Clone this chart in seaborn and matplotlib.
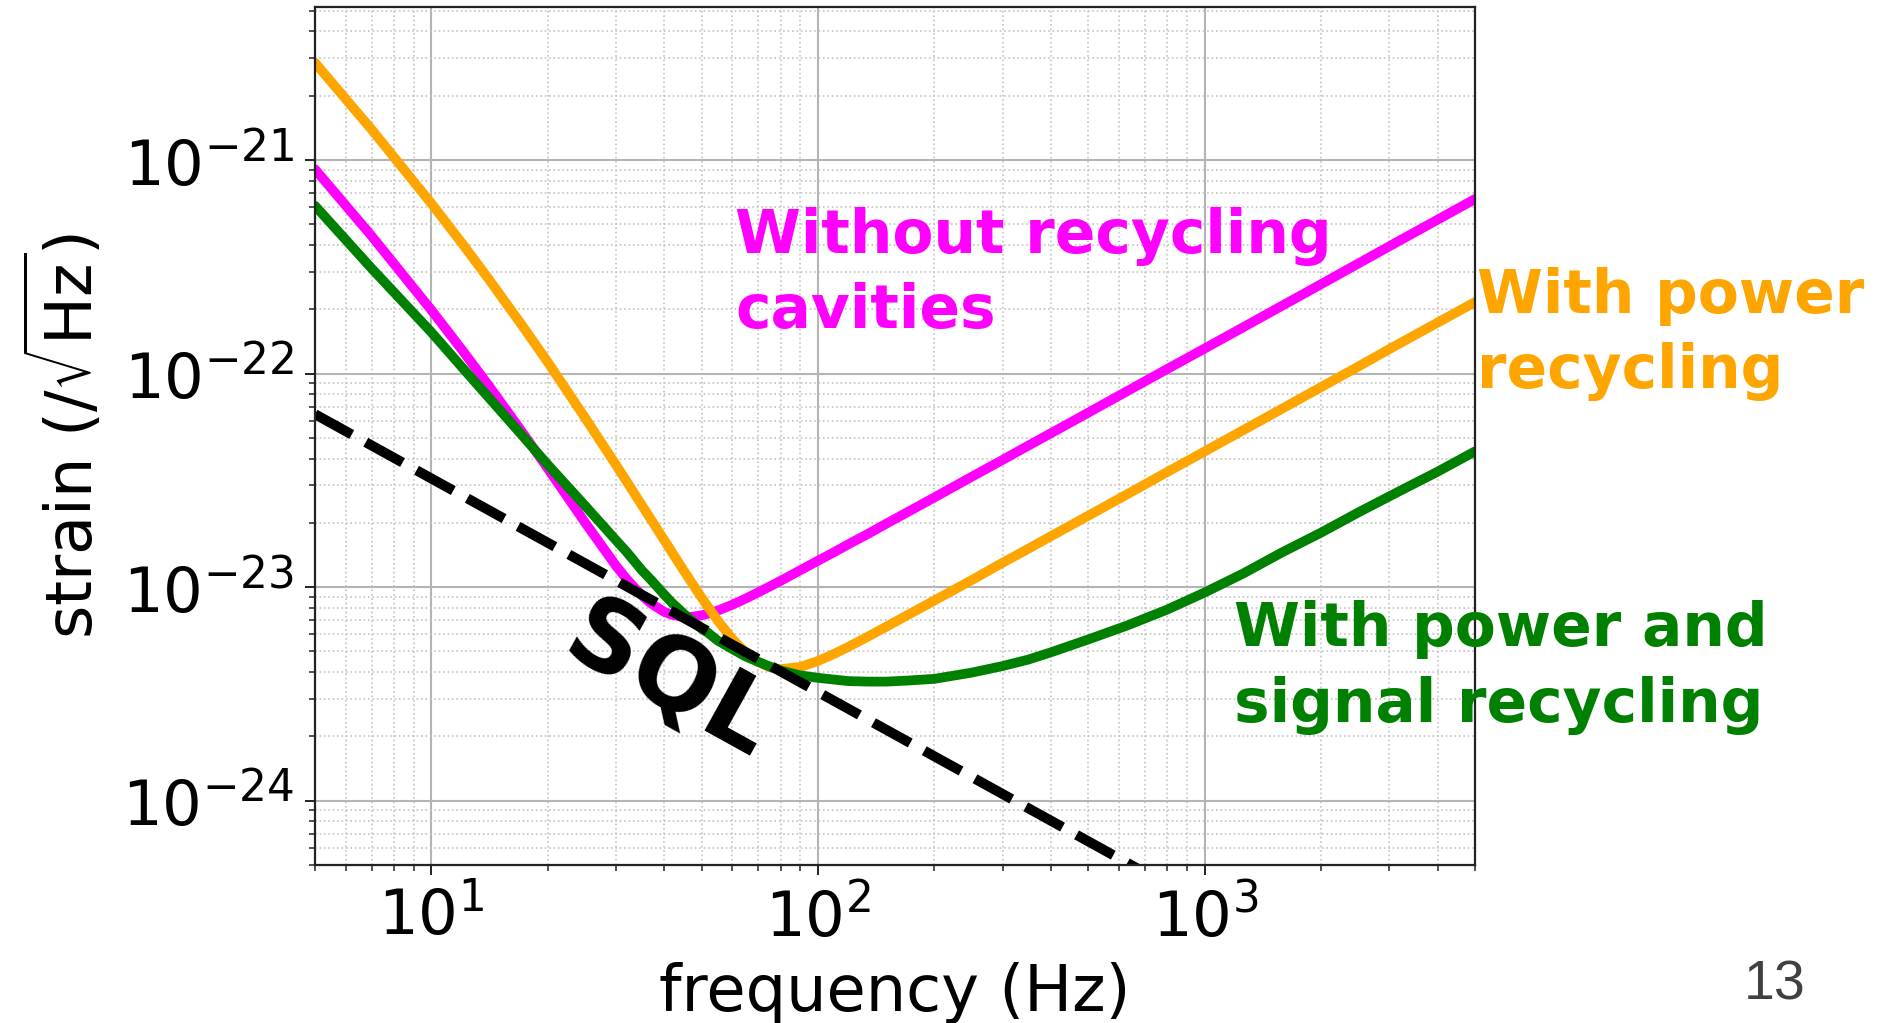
import matplotlib
matplotlib.use("Agg")
import matplotlib.pyplot as plt
import matplotlib.ticker as mticker
import seaborn as sns

# ---- data ----
freq_hz = [5, 7, 10, 12, 14, 17, 20, 25, 30, 32, 35, 37, 40, 42, 45, 47, 50, 52,
           55, 60, 65, 70, 75, 80, 90, 100, 110, 120, 135, 150, 170, 200, 250,
           300, 350, 400, 500, 630, 800, 1000, 1260, 1580, 2000, 2500, 3160,
           4000, 5000]

without_recycling = [9.04e-22, 4.41e-22, 1.98e-22, 1.29e-22, 8.88e-23, 5.46e-23,
                     3.59e-23, 2.00e-23, 1.26e-23, 1.09e-23, 9.15e-24, 8.38e-24,
                     7.66e-24, 7.41e-24, 7.25e-24, 7.26e-24, 7.38e-24, 7.51e-24,
                     7.76e-24, 8.27e-24, 8.84e-24, 9.45e-24, 1.007e-23, 1.07e-23,
                     1.20e-23, 1.33e-23, 1.457e-23, 1.59e-23, 1.78e-23, 1.98e-23,
                     2.24e-23, 2.63e-23, 3.29e-23, 3.94e-23, 4.60e-23, 5.25e-23,
                     6.56e-23, 8.27e-23, 1.05e-22, 1.31e-22, 1.65e-22, 2.07e-22,
                     2.62e-22, 3.28e-22, 4.15e-22, 5.25e-22, 6.56e-22]

power_recycling = [2.85e-21, 1.39e-21, 6.25e-22, 4.07e-22, 2.80e-22, 1.72e-22,
                   1.13e-22, 6.18e-23, 3.74e-23, 3.12e-23, 2.42e-23, 2.07e-23,
                   1.66e-23, 1.445e-23, 1.19e-23, 1.056e-23, 8.92e-24, 8.05e-24,
                   6.98e-24, 5.72e-24, 4.93e-24, 4.46e-24, 4.215e-24, 4.13e-24,
                   4.23e-24, 4.51e-24, 4.87e-24, 5.26e-24, 5.885e-24, 6.52e-24,
                   7.38e-24, 8.66e-24, 1.08e-23, 1.30e-23, 1.513e-23, 1.73e-23,
                   2.16e-23, 2.72e-23, 3.46e-23, 4.32e-23, 5.44e-23, 6.82e-23,
                   8.64e-23, 1.08e-22, 1.37e-22, 1.73e-22, 2.16e-22]

power_signal_recycling = [6.10e-22, 3.11e-22, 1.56e-22, 1.07e-22, 7.80e-23, 5.24e-23,
                          3.74e-23, 2.40e-23, 1.66e-23, 1.46e-23, 1.20e-23, 1.08e-23,
                          9.23e-24, 8.41e-24, 7.50e-24, 7.00e-24, 6.38e-24, 6.10e-24,
                          5.62e-24, 5.13e-24, 4.73e-24, 4.47e-24, 4.25e-24, 4.07e-24,
                          3.86e-24, 3.76e-24, 3.69e-24, 3.63e-24, 3.61e-24, 3.61e-24,
                          3.65e-24, 3.72e-24, 3.98e-24, 4.27e-24, 4.58e-24, 4.95e-24,
                          5.69e-24, 6.61e-24, 7.85e-24, 9.44e-24, 1.16e-23, 1.45e-23,
                          1.80e-23, 2.24e-23, 2.79e-23, 3.47e-23, 4.32e-23]

sql_freq_hz = [5, 5000]
sql_strain = [6.45e-23, 6.45e-26]

x_major_ticks = [10, 100, 1000]
y_major_ticks = [1e-24, 1e-23, 1e-22, 1e-21]

label_without = ["Without recycling", "cavities"]
label_power = ["With power", "recycling"]
label_signal = ["With power and", "signal recycling"]

# ---- style ----
sns.set_theme(style="ticks")
plt.rcParams['font.family'] = ['DejaVu Sans']
plt.rcParams['mathtext.fontset'] = 'dejavusans'

W, H = 1884, 1023
fig = plt.figure(figsize=(W / 100, H / 100), dpi=100)
fig.patch.set_facecolor('white')
ax = fig.add_axes([315 / W, 1 - 865 / H, 1160 / W, 858 / H])
ax.set_facecolor('white')

lw = 7.0
sns.lineplot(x=freq_hz, y=without_recycling, color='#ff00ff', linewidth=lw,
             estimator=None, sort=False, ax=ax)
sns.lineplot(x=freq_hz, y=power_recycling, color='#ffa500', linewidth=lw,
             estimator=None, sort=False, ax=ax)
sns.lineplot(x=freq_hz, y=power_signal_recycling, color='#008000', linewidth=lw,
             estimator=None, sort=False, ax=ax)
sns.lineplot(x=sql_freq_hz, y=sql_strain, color='black', linewidth=7.2,
             estimator=None, sort=False, ax=ax)
ax.lines[-1].set_dashes((4.2, 1.6))
for ln in ax.lines:
    ln.set_solid_joinstyle('round')

ax.set_xscale('log')
ax.set_yscale('log')
ax.set_xticks(x_major_ticks)
ax.set_yticks(y_major_ticks)
ax.set_xlim(5, 5000)
ax.set_ylim(5e-25, 5.2e-21)
ax.xaxis.set_major_formatter(mticker.LogFormatterSciNotation())
ax.yaxis.set_major_formatter(mticker.LogFormatterSciNotation())
ax.xaxis.set_minor_formatter(mticker.NullFormatter())
ax.yaxis.set_minor_formatter(mticker.NullFormatter())

ax.grid(which='major', color='#b4b4b4', linewidth=1.5, linestyle='-')
ax.grid(which='minor', color='#c4c4c4', linewidth=1.2, linestyle=':')
ax.set_axisbelow(True)

for s in ax.spines.values():
    s.set_visible(True)
    s.set_color('#222222')
    s.set_linewidth(1.6)

ax.tick_params(which='major', length=7, width=1.4, labelsize=45, pad=8,
               color='#222222', labelcolor='black', direction='out')
ax.tick_params(which='minor', length=4, width=1.1, color='#222222', direction='out')

ax.set_xlabel('frequency (Hz)', fontsize=46, labelpad=9, color='black')
ax.set_ylabel(r'strain (/$\sqrt{\mathrm{Hz}}$)', fontsize=46, labelpad=12,
              color='black')

# ---- annotations ----
tfont = dict(family='DejaVu Sans', weight='bold', fontsize=43)

def put_lines(lines, x_px, y_px_list, color):
    for txt, y in zip(lines, y_px_list):
        fig.text((x_px - 3) / W, 1 - y / H, txt, color=color, ha='left',
                 va='baseline', **tfont)

put_lines(label_without, 738, [252.7, 328.3], '#ff00ff')
put_lines(label_power, 1480, [312.7, 388.3], '#ffa500')
put_lines(label_signal, 1237, [646, 721.7], '#008000')

fig.text(669 / W, 1 - 683 / H, 'SQL', color='black', rotation=-29,
         rotation_mode='anchor', ha='center', va='center',
         family='DejaVu Sans', weight='bold', fontsize=72)

fig.text(1775 / W, 1 - 1000 / H, '13', color='#404040', ha='center',
         va='baseline', family=['Liberation Sans', 'DejaVu Sans'], fontsize=40)

fig.savefig('out.png', dpi=100, facecolor='white')
